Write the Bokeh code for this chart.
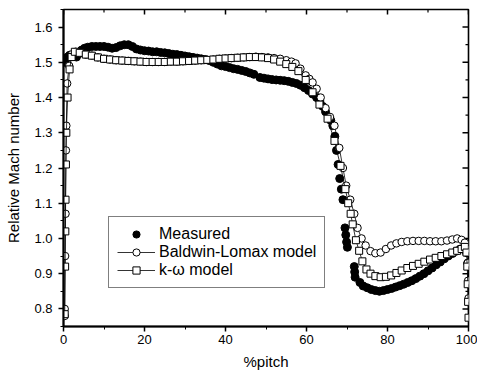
import math
from bokeh.plotting import figure
from bokeh.models import Range1d, FixedTicker, PrintfTickFormatter, Legend, LegendItem
from bokeh.embed import file_html
from bokeh.resources import INLINE

# ---- data ----
m_x = [0.2,0.6,1.0,1.5,2.0,2.6,3.2,3.8,4.5,5.2,
       6,7,8,9,10,11,12,13,14,15,
       16,17,18,19,20,21,22,23,24,25,
       26,27,28,29,30,31,32,33,34,35,
       36,37,38,39,40,41,42,43,44,45,
       46,47,48.5,49.5,50.5,51.5,52.5,53.5,54.5,55.5,
       56.5,57.5,58.5,59.5,60.5,61.5,62.5,63.3,64,64.7,
       65.4,66,66.5,67,67.4,67.8,68.2,68.6,69.0,69.5,
       69.7,69.9,70.1,71.8,71.9,72.0,73.2,74,75,76,
       77,78,79,80,81,82,83,84,85,86,
       87,88,89,90,91,92,93,94,95,96,
       97,98,99,99.5,99.8]
m_y = [1.50,1.51,1.515,1.52,1.52,1.52,1.515,1.525,1.535,1.54,
       1.543,1.545,1.545,1.545,1.545,1.543,1.54,1.542,1.547,1.55,
       1.55,1.545,1.538,1.535,1.533,1.532,1.53,1.53,1.528,1.527,
       1.525,1.523,1.522,1.52,1.518,1.516,1.514,1.512,1.51,1.508,
       1.505,1.50,1.495,1.49,1.488,1.485,1.482,1.48,1.477,1.474,
       1.47,1.466,1.457,1.455,1.453,1.451,1.45,1.449,1.448,1.446,
       1.443,1.44,1.435,1.428,1.42,1.41,1.40,1.39,1.375,1.36,
       1.345,1.335,1.32,1.29,1.25,1.21,1.17,1.14,1.11,1.03,
       1.01,0.99,0.975,0.92,0.905,0.89,0.875,0.865,0.86,0.855,
       0.852,0.85,0.852,0.855,0.858,0.862,0.866,0.87,0.875,0.88,
       0.886,0.893,0.90,0.908,0.916,0.925,0.933,0.942,0.95,0.957,
       0.964,0.97,0.972,0.96,0.93]

bl_x = [0.3,0.3,0.4,0.5,0.6,0.7,0.9,1.4,2.1,3.0,
        4.0,5.5,7,8.5,10,11.5,13,14.5,16,17.5,
        19,20.5,22,23.5,25,26.5,28,29.5,31,32.5,
        34,35.5,37,38.5,40,41.5,43,44.5,46,47.5,
        49,50.5,52,53.5,55,56.3,57.3,58.5,59.8,60.7,
        61.5,62.5,63.5,64.7,65.8,66.9,68.1,69.0,69.8,70.8,
        71.8,72.6,73.6,74.6,75.8,77.0,78.3,79.6,80.9,82.2,
        83.5,84.9,86.3,87.7,89.1,90.5,91.9,93.3,94.7,96.0,
        97.2,98.3,99.1,99.6,99.8,99.9,100]
bl_y = [0.78,0.80,0.95,1.07,1.25,1.32,1.44,1.49,1.523,1.53,
        1.526,1.522,1.519,1.514,1.51,1.508,1.506,1.505,1.504,1.503,
        1.502,1.501,1.501,1.501,1.501,1.502,1.502,1.503,1.504,1.505,
        1.506,1.507,1.508,1.51,1.511,1.512,1.513,1.514,1.515,1.516,
        1.515,1.514,1.512,1.51,1.506,1.502,1.497,1.482,1.463,1.453,
        1.443,1.425,1.40,1.37,1.345,1.32,1.257,1.20,1.15,1.11,
        1.07,1.03,1.00,0.98,0.964,0.958,0.96,0.97,0.98,0.986,
        0.99,0.992,0.993,0.993,0.993,0.992,0.992,0.992,0.994,0.997,
        1.0,0.996,0.988,0.97,0.93,0.88,0.83]

kw_x = [0.3,0.4,0.45,0.5,0.6,0.7,1.0,1.5,2.0,2.8,
        4.0,5.5,7,8.5,10,11.5,13,14.5,16,17.5,
        19,20.5,22,23.5,25,26.5,28,29.5,31,32.5,
        34,35.5,37,38.5,40,41.5,43,44.5,46,47.5,
        49,50.5,52,53.5,55,56.5,58,59.8,61.5,63.2,
        65.2,66.9,68.4,69.6,70.3,70.9,71.4,72.2,73.0,73.8,
        74.8,75.8,77.0,78.3,79.6,80.9,82.2,83.5,84.9,86.3,
        87.7,89.1,90.5,91.9,93.3,94.7,96.0,97.2,98.3,99.1,
        99.5,99.7,99.8,99.9,100]
kw_y = [0.785,0.92,1.02,1.11,1.21,1.30,1.40,1.48,1.515,1.53,
        1.527,1.522,1.519,1.514,1.51,1.508,1.506,1.505,1.504,1.503,
        1.502,1.501,1.501,1.501,1.501,1.502,1.502,1.503,1.504,1.505,
        1.506,1.507,1.508,1.51,1.511,1.512,1.513,1.514,1.515,1.515,
        1.514,1.512,1.508,1.502,1.495,1.487,1.475,1.45,1.415,1.38,
        1.34,1.277,1.206,1.14,1.10,1.07,1.04,0.995,0.965,0.935,
        0.912,0.90,0.893,0.89,0.891,0.895,0.902,0.909,0.916,0.922,
        0.928,0.934,0.94,0.945,0.95,0.955,0.96,0.965,0.97,0.976,
        0.96,0.92,0.87,0.82,0.775]

x_ticks = [0, 20, 40, 60, 80, 100]
x_minor = [10, 30, 50, 70, 90]
y_ticks = [0.8, 0.9, 1.0, 1.1, 1.2, 1.3, 1.4, 1.5, 1.6]
y_minor = [0.75, 0.85, 0.95, 1.05, 1.15, 1.25, 1.35, 1.45, 1.55, 1.65]

X_MIN, X_MAX = 0, 100
Y_MIN, Y_MAX = 0.75, 1.65
FONT = "Liberation Sans"

p = figure(width=477, height=376,
           x_range=Range1d(X_MIN, X_MAX), y_range=Range1d(Y_MIN, Y_MAX),
           output_backend="svg", toolbar_location=None,
           min_border_left=63, min_border_right=9, min_border_top=9, min_border_bottom=50,
           x_axis_label="%pitch", y_axis_label="Relative Mach number")
p.xgrid.visible = False
p.ygrid.visible = False
p.outline_line_color = "black"
p.outline_line_width = 1.6
p.background_fill_color = "white"
p.border_fill_color = "white"

p.xaxis.ticker = FixedTicker(ticks=x_ticks, minor_ticks=x_minor)
p.yaxis.ticker = FixedTicker(ticks=y_ticks, minor_ticks=y_minor)
p.yaxis.formatter = PrintfTickFormatter(format="%.1f")

for ax in (p.xaxis[0], p.yaxis[0]):
    ax.axis_line_width = 2
    ax.axis_line_color = "black"
    ax.major_tick_line_color = "black"
    ax.minor_tick_line_color = "black"
    ax.major_tick_line_width = 1.5
    ax.major_tick_in = 0
    ax.major_tick_out = 5
    ax.minor_tick_in = 0
    ax.minor_tick_out = 3
    ax.major_label_text_font = FONT
    ax.major_label_text_font_size = "13px"
    ax.major_label_text_color = "black"
    ax.axis_label_text_font = FONT
    ax.axis_label_text_font_size = "15px"
    ax.axis_label_text_font_style = "normal"
    ax.axis_label_text_color = "black"
p.xaxis.major_label_standoff = 3
p.xaxis.axis_label_standoff = 6
p.yaxis.major_label_standoff = 6
p.yaxis.axis_label_standoff = 9

# mirror ticks on top and right edges (half of each dash is clipped by the frame)
p.scatter(x_ticks, [Y_MAX] * len(x_ticks), marker="dash", size=10, angle=math.pi / 2,
          line_color="black", line_width=1.5)
p.scatter(x_minor, [Y_MAX] * len(x_minor), marker="dash", size=6, angle=math.pi / 2,
          line_color="black", line_width=1.2)
p.scatter([X_MAX] * len(y_ticks), y_ticks, marker="dash", size=12,
          line_color="black", line_width=1.5)
p.scatter([X_MAX] * len(y_minor), y_minor, marker="dash", size=6,
          line_color="black", line_width=1.2)

r_m = p.scatter(m_x, m_y, marker="circle", size=8, fill_color="black", line_color="black")
r_bl_line = p.line(bl_x, bl_y, line_color="black", line_width=0.8)
r_bl = p.scatter(bl_x, bl_y, marker="circle", size=7.5, fill_color="white",
                 line_color="black", line_width=1)
r_kw_line = p.line(kw_x, kw_y, line_color="black", line_width=0.8)
r_kw = p.scatter(kw_x, kw_y, marker="square", size=7, fill_color="white",
                 line_color="black", line_width=1)

legend = Legend(items=[
    LegendItem(label="Measured", renderers=[r_m]),
    LegendItem(label="Baldwin-Lomax model", renderers=[r_bl_line, r_bl]),
    LegendItem(label="k-\u03c9 model", renderers=[r_kw_line, r_kw]),
], location=(45, 38))
legend.label_text_font = FONT
legend.label_text_font_size = "16px"
legend.label_text_color = "black"
legend.padding = 8
legend.spacing = 0
legend.glyph_width = 38
legend.glyph_height = 18
legend.label_height = 18
legend.label_standoff = 4
legend.border_line_color = "black"
legend.border_line_width = 1
legend.background_fill_alpha = 1
p.add_layout(legend, "center")

open("out.html", "w").write(file_html(p, INLINE))
